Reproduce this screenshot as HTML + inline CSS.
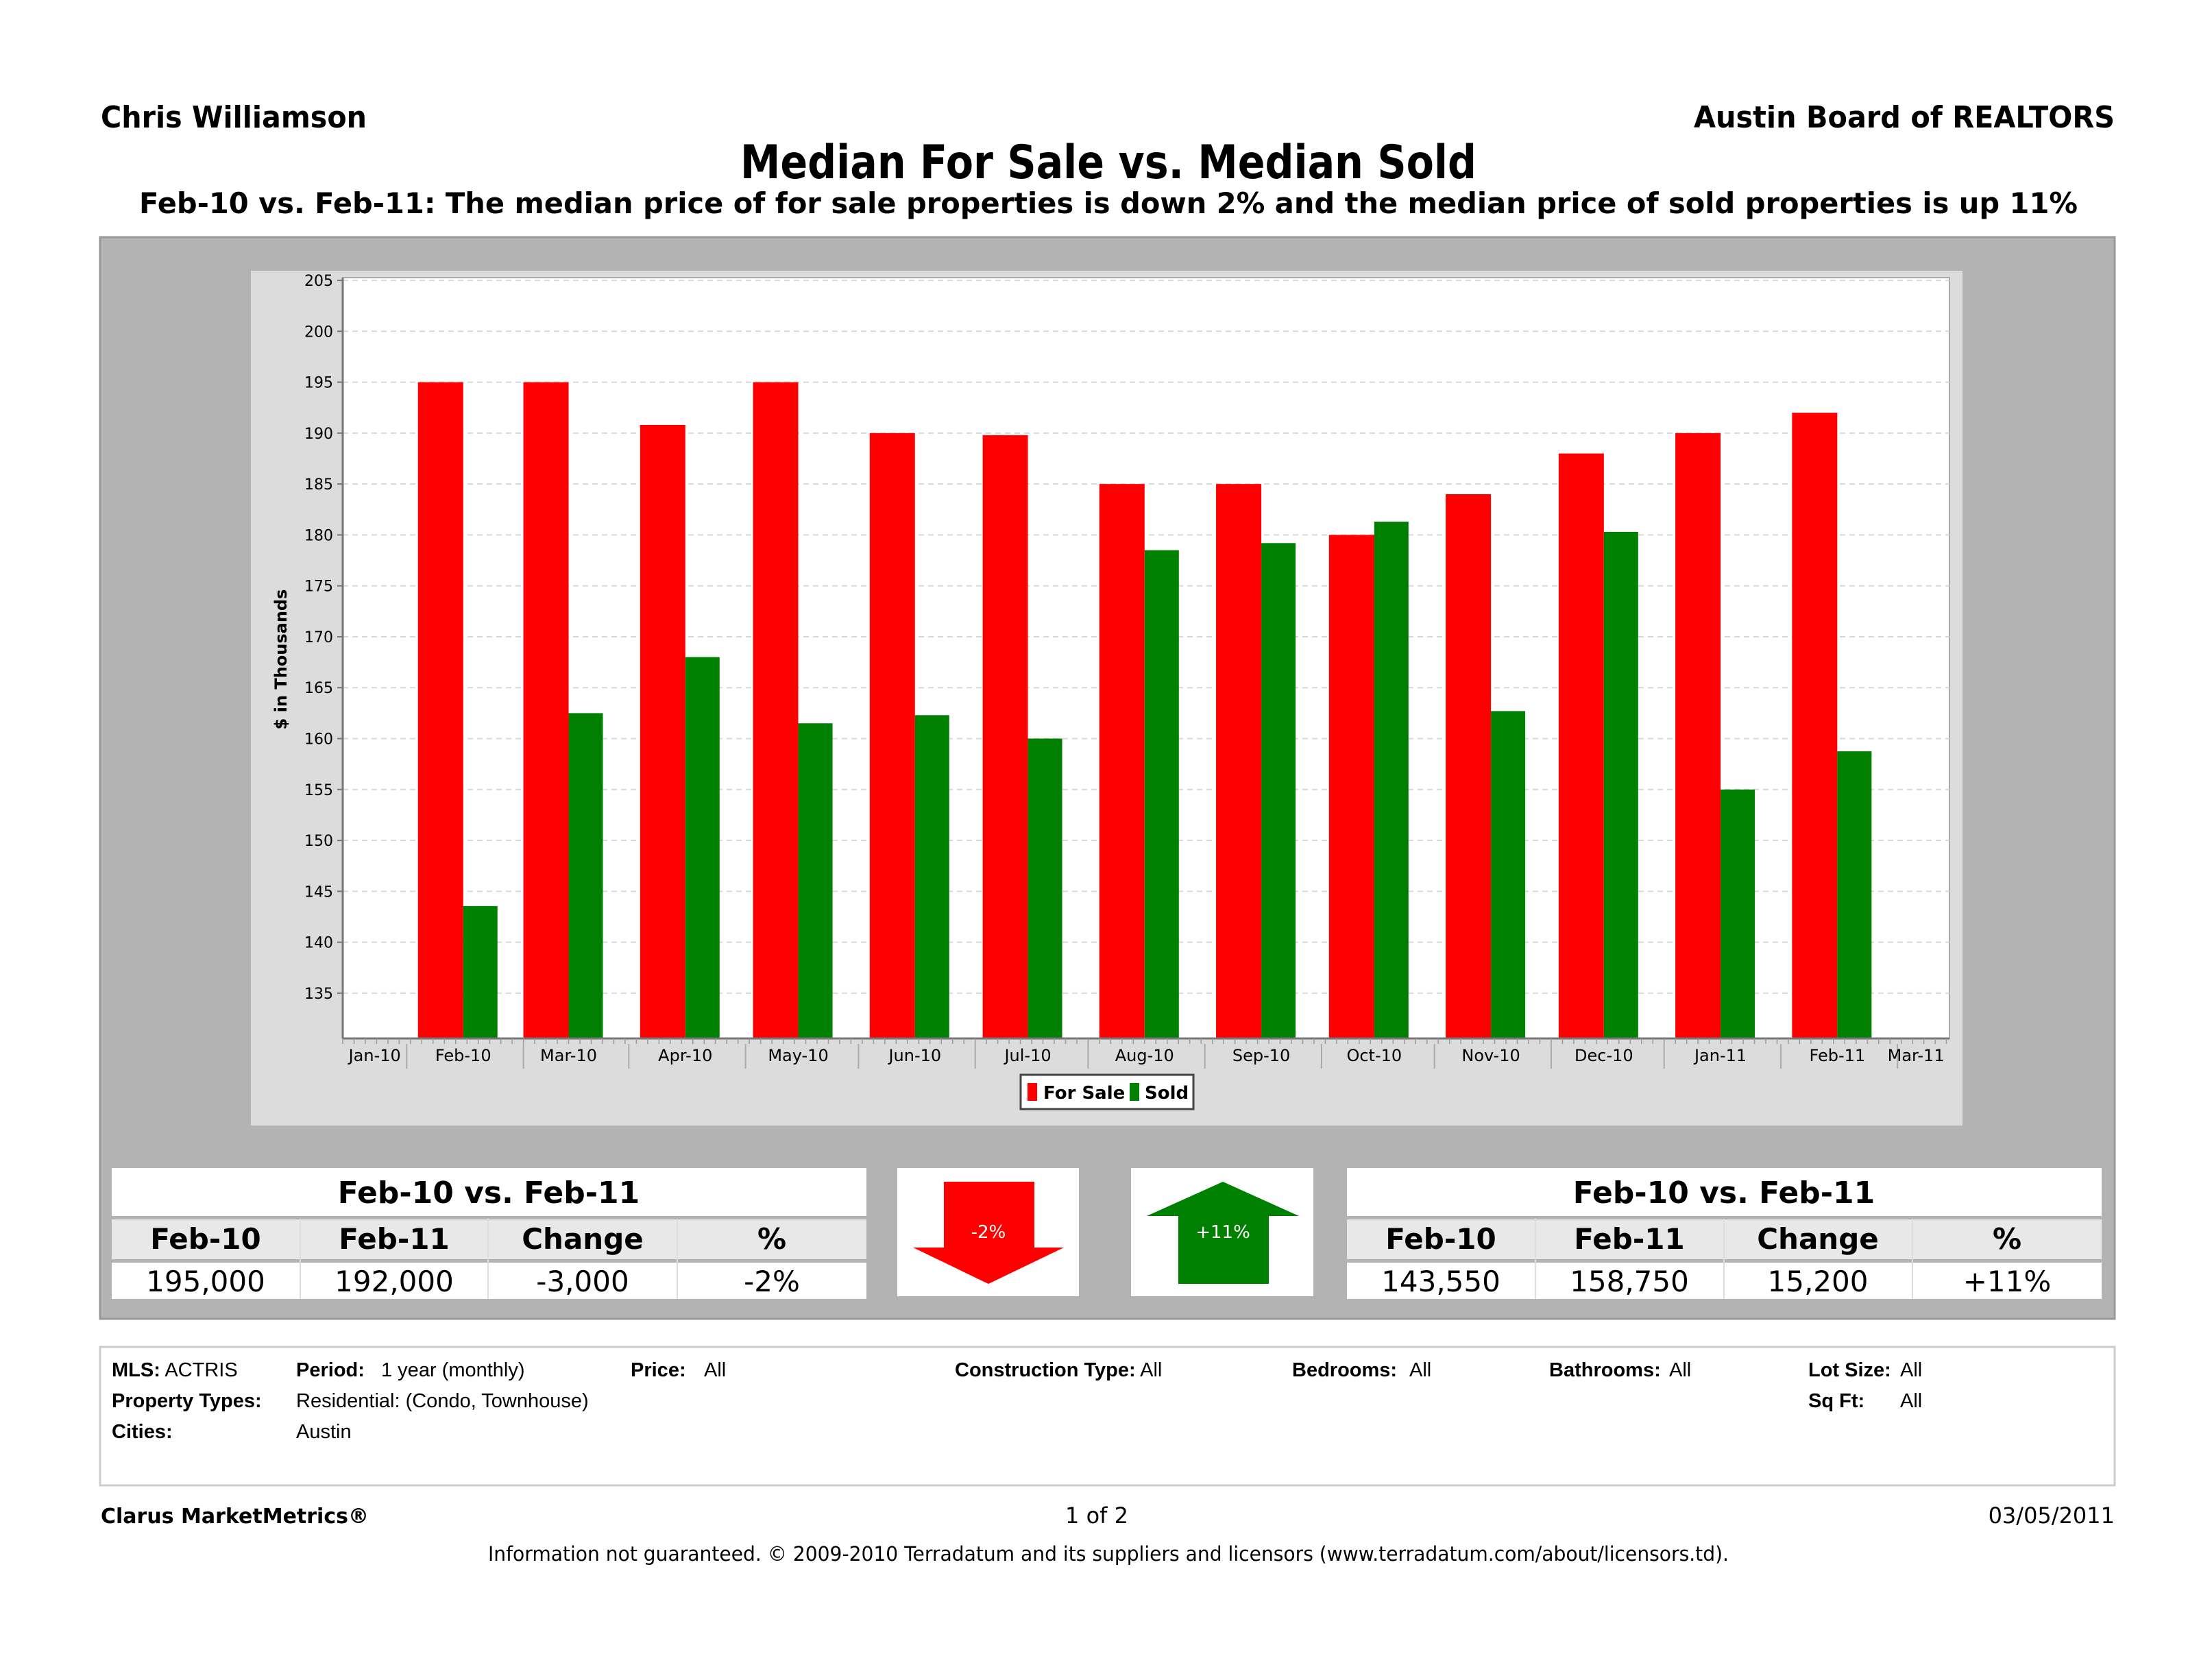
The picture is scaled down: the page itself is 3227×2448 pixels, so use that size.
<!DOCTYPE html>
<html><head><meta charset="utf-8"><title>Median For Sale vs. Median Sold</title>
<style>
html,body{margin:0;padding:0;background:#fff;}
svg{display:block;font-family:"DejaVu Sans","Liberation Sans",sans-serif;}
</style></head>
<body>
<svg id="page" width="3227" height="2448" viewBox="0 0 3227 2448" xmlns="http://www.w3.org/2000/svg">
<rect width="3227" height="2448" fill="#fff"/>
<text x="147" y="186" font-size="44" font-weight="bold" textLength="388" lengthAdjust="spacingAndGlyphs">Chris Williamson</text>
<text x="3085" y="186" font-size="44" font-weight="bold" text-anchor="end" textLength="614" lengthAdjust="spacingAndGlyphs">Austin Board of REALTORS</text>
<text x="1617" y="260" font-size="68" font-weight="bold" text-anchor="middle" textLength="1074" lengthAdjust="spacingAndGlyphs">Median For Sale vs. Median Sold</text>
<text x="1617" y="311" font-size="42" font-weight="bold" text-anchor="middle" textLength="2828" lengthAdjust="spacingAndGlyphs">Feb-10 vs. Feb-11:  The median price of for sale properties is down 2% and the median price of sold properties is up 11%</text>

<rect x="146" y="346" width="2939" height="1578" fill="#b3b3b3" stroke="#999" stroke-width="3"/>
<rect x="366" y="395" width="2497" height="1247" fill="#dcdcdc"/>
<rect x="500" y="405" width="2344" height="1110" fill="#fff" stroke="#aaa" stroke-width="2"/>
<g id="grid"></g>
<g id="bars"></g>
<line x1="500" y1="405" x2="500" y2="1515" stroke="#777" stroke-width="3"/>
<line x1="500" y1="1515" x2="2844" y2="1515" stroke="#777" stroke-width="3"/>
<g id="yticks"></g>
<g id="xticks"></g>
<text transform="translate(418,962) rotate(-90)" font-size="24" font-weight="bold" text-anchor="middle">$ in Thousands</text>

<g>
<rect x="1489" y="1568" width="252" height="50" fill="#fff" stroke="#444" stroke-width="3"/>
<rect x="1499" y="1580" width="14" height="26" fill="#f00"/>
<text x="1522" y="1603" font-size="26" font-weight="bold">For Sale</text>
<rect x="1648" y="1580" width="14" height="26" fill="#008000"/>
<text x="1670" y="1603" font-size="26" font-weight="bold">Sold</text>
</g>

<g font-size="42">
<rect x="163" y="1704" width="1101" height="191" fill="#fff"/>
<rect x="163" y="1778" width="1101" height="60" fill="#e8e8e8"/>
<rect x="163" y="1774" width="1101" height="5" fill="#b3b3b3"/>
<rect x="163" y="1837" width="1101" height="5" fill="#b3b3b3"/>
<line x1="438" y1="1778" x2="438" y2="1895" stroke="#ddd" stroke-width="2"/>
<line x1="712" y1="1778" x2="712" y2="1895" stroke="#ddd" stroke-width="2"/>
<line x1="988" y1="1778" x2="988" y2="1895" stroke="#ddd" stroke-width="2"/>
<text x="713" y="1755" text-anchor="middle" font-weight="bold" font-size="44">Feb-10 vs. Feb-11</text>
<text x="300" y="1822" text-anchor="middle" font-weight="bold">Feb-10</text>
<text x="575" y="1822" text-anchor="middle" font-weight="bold">Feb-11</text>
<text x="850" y="1822" text-anchor="middle" font-weight="bold">Change</text>
<text x="1126" y="1822" text-anchor="middle" font-weight="bold">%</text>
<text x="300" y="1884" text-anchor="middle">195,000</text>
<text x="575" y="1884" text-anchor="middle">192,000</text>
<text x="850" y="1884" text-anchor="middle">-3,000</text>
<text x="1126" y="1884" text-anchor="middle">-2%</text>
</g>

<g>
<rect x="1309" y="1704" width="265" height="187" fill="#fff"/>
<polygon points="1377,1724 1509,1724 1509,1820 1552,1820 1442,1873 1332,1820 1377,1820" fill="#f00"/>
<text x="1442" y="1806" font-size="26" fill="#fff" text-anchor="middle">-2%</text>
</g>
<g>
<rect x="1650" y="1704" width="266" height="187" fill="#fff"/>
<polygon points="1719,1873 1851,1873 1851,1774 1895,1774 1784,1724 1673,1774 1719,1774" fill="#008000"/>
<text x="1784" y="1806" font-size="26" fill="#fff" text-anchor="middle">+11%</text>
</g>

<g font-size="42">
<rect x="1965" y="1704" width="1101" height="191" fill="#fff"/>
<rect x="1965" y="1778" width="1101" height="60" fill="#e8e8e8"/>
<rect x="1965" y="1774" width="1101" height="5" fill="#b3b3b3"/>
<rect x="1965" y="1837" width="1101" height="5" fill="#b3b3b3"/>
<line x1="2240" y1="1778" x2="2240" y2="1895" stroke="#ddd" stroke-width="2"/>
<line x1="2515" y1="1778" x2="2515" y2="1895" stroke="#ddd" stroke-width="2"/>
<line x1="2790" y1="1778" x2="2790" y2="1895" stroke="#ddd" stroke-width="2"/>
<text x="2515" y="1755" text-anchor="middle" font-weight="bold" font-size="44">Feb-10 vs. Feb-11</text>
<text x="2102" y="1822" text-anchor="middle" font-weight="bold">Feb-10</text>
<text x="2377" y="1822" text-anchor="middle" font-weight="bold">Feb-11</text>
<text x="2652" y="1822" text-anchor="middle" font-weight="bold">Change</text>
<text x="2928" y="1822" text-anchor="middle" font-weight="bold">%</text>
<text x="2102" y="1884" text-anchor="middle">143,550</text>
<text x="2377" y="1884" text-anchor="middle">158,750</text>
<text x="2652" y="1884" text-anchor="middle">15,200</text>
<text x="2928" y="1884" text-anchor="middle">+11%</text>
</g>

<g font-size="29" font-family="Liberation Sans, sans-serif">
<rect x="146" y="1965" width="2939" height="202" fill="#fff" stroke="#ccc" stroke-width="3"/>
<text x="163" y="2008"><tspan font-weight="bold">MLS:</tspan>  ACTRIS</text>
<text x="432" y="2008" font-weight="bold">Period:</text><text x="556" y="2008">1 year (monthly)</text>
<text x="920" y="2008" font-weight="bold">Price:</text><text x="1027" y="2008">All</text>
<text x="1393" y="2008"><tspan font-weight="bold">Construction Type:</tspan> All</text>
<text x="1885" y="2008" font-weight="bold">Bedrooms:</text><text x="2056" y="2008">All</text>
<text x="2260" y="2008" font-weight="bold">Bathrooms:</text><text x="2435" y="2008">All</text>
<text x="2638" y="2008" font-weight="bold">Lot Size:</text><text x="2772" y="2008">All</text>
<text x="163" y="2053" font-weight="bold">Property Types:</text><text x="432" y="2053">Residential: (Condo, Townhouse)</text>
<text x="2638" y="2053" font-weight="bold">Sq Ft:</text><text x="2772" y="2053">All</text>
<text x="163" y="2098" font-weight="bold">Cities:</text><text x="432" y="2098">Austin</text>
</g>

<text x="147" y="2222" font-size="30" font-weight="bold">Clarus MarketMetrics®</text>
<text x="1600" y="2222" font-size="32" text-anchor="middle">1 of 2</text>
<text x="3085" y="2222" font-size="32" text-anchor="end">03/05/2011</text>
<text x="1617" y="2277" font-size="29" text-anchor="middle" textLength="1810" lengthAdjust="spacingAndGlyphs">Information not guaranteed.  © 2009-2010 Terradatum and its suppliers and licensors (www.terradatum.com/about/licensors.td).</text>
</svg>
<script>
const months = ["2010-02-01","2010-03-01","2010-04-01","2010-05-01","2010-06-01","2010-07-01","2010-08-01","2010-09-01","2010-10-01","2010-11-01","2010-12-01","2011-01-01","2011-02-01"];
const forSale = [195, 195, 190.8, 195, 190, 189.8, 185, 185, 180, 184, 188, 190, 192];
const sold = [143.55, 162.5, 168, 161.5, 162.3, 160, 178.5, 179.2, 181.3, 162.7, 180.3, 155, 158.75];
const xTickLabels = ["Jan-10","Feb-10","Mar-10","Apr-10","May-10","Jun-10","Jul-10","Aug-10","Sep-10","Oct-10","Nov-10","Dec-10","Jan-11","Feb-11","Mar-11"];
const xTickDates = ["2010-01-01","2010-02-01","2010-03-01","2010-04-01","2010-05-01","2010-06-01","2010-07-01","2010-08-01","2010-09-01","2010-10-01","2010-11-01","2010-12-01","2011-01-01","2011-02-01","2011-03-01"];
const yTicks = [135,140,145,150,155,160,165,170,175,180,185,190,195,200,205];

const NS = "http://www.w3.org/2000/svg";
const PL = 500, PR = 2844, PT = 405, PB = 1515;
const Y0 = 130.55, Y1 = 205.27;
const DAY = 86400000;
const D0 = Date.UTC(2010,1,1) - 32.0*DAY, D1 = Date.UTC(2010,1,1) + 394.8*DAY;
function toT(s){ const p=s.split("-"); return Date.UTC(+p[0],+p[1]-1,+p[2]); }
function xd(t){ return PL + (t-D0)/(D1-D0)*(PR-PL); }
function xs(s){ return xd(toT(s)); }
function ys(v){ return PB - (v-Y0)/(Y1-Y0)*(PB-PT); }
function mk(tag, attrs, parent){ const e=document.createElementNS(NS,tag); for(const k in attrs) e.setAttribute(k,attrs[k]); parent.appendChild(e); return e; }

const grid=document.getElementById("grid"), yt=document.getElementById("yticks"), xt=document.getElementById("xticks"), bars=document.getElementById("bars");
yTicks.forEach(v=>{
  const y=ys(v);
  const g=mk("line",{x1:PL,x2:PR,y1:y,y2:y,stroke:"#d8d8d8","stroke-width":2,"stroke-dasharray":"8,6"},grid);
  
  
  mk("line",{x1:PL-8,x2:PL,y1:y,y2:y,stroke:"#777","stroke-width":2},yt);
  const t=mk("text",{x:PL-14,y:y+8,"font-size":22,"text-anchor":"end"},yt);
  t.textContent=String(v);
  
  
});
for(let t=D0; t<=D1; t+=3*DAY){ mk("line",{x1:xd(t),x2:xd(t),y1:PB,y2:PB+8,stroke:"#999","stroke-width":1.5},xt); }
xTickDates.forEach((d,i)=>{
  const t=toT(d);
  const a=Math.max(PL, xd(t-16*DAY)), b=Math.min(PR, xd(t+16*DAY));
  if(xd(t+16*DAY)<PR-5) mk("line",{x1:b,x2:b,y1:PB+8,y2:PB+44,stroke:"#aaa","stroke-width":2},xt);
  const lab=mk("text",{x:(a+b)/2,y:1548,"font-size":24,"text-anchor":"middle"},xt);
  lab.textContent=xTickLabels[i];
  
  
});
months.forEach((m,i)=>{
  const x=xs(m);
  const r=mk("rect",{x:x-66,y:ys(forSale[i]),width:66,height:PB-ys(forSale[i]),fill:"#ff0000"},bars);
  
  
  const g=mk("rect",{x:x,y:ys(sold[i]),width:50,height:PB-ys(sold[i]),fill:"#008000"},bars);
  
  
});
</script>
</body></html>
